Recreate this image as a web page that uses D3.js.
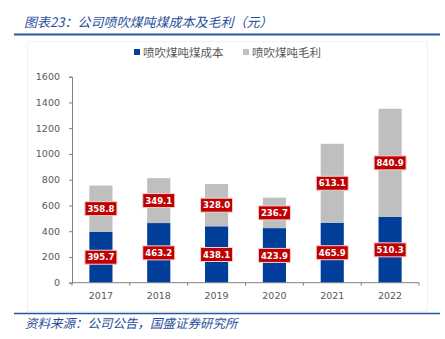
<!DOCTYPE html>
<html><head><meta charset="utf-8">
<script src="https://cdn.jsdelivr.net/npm/d3@7"></script>
<style>body{margin:0;background:#fff;}svg{display:block;}</style>
</head><body>
<svg id="c" width="445" height="339"></svg>
<script>
const years = ["2017","2018","2019","2020","2021","2022"];
const costValues = [395.7, 463.2, 438.1, 423.9, 465.9, 510.3];
const marginValues = [358.8, 349.1, 328.0, 236.7, 613.1, 840.9];
const yTicks = [0, 200, 400, 600, 800, 1000, 1200, 1400, 1600];
const seriesNames = ["喷吹煤吨煤成本", "喷吹煤吨毛利"];
const titleText = "图表23：公司喷吹煤吨煤成本及毛利（元）";
const sourceText = "资料来源：公司公告，国盛证券研究所";

const svg = d3.select("#c");
const font = "'Noto Sans CJK SC', 'Noto Sans', sans-serif";
const numFont = "'DejaVu Sans', Verdana, sans-serif";
const blueTxt = "#1F4E9A";
const colors = ["#003E99", "#BFBFBF"];

// title
svg.append("text").attr("x", 24).attr("y", 27).attr("font-family", font)
  .attr("font-size", 13).attr("font-style", "italic").attr("fill", blueTxt).text(titleText);
svg.append("line").attr("x1", 14).attr("x2", 440).attr("y1", 34.5).attr("y2", 34.5)
  .attr("stroke", "#2458A6").attr("stroke-width", 2);

// faint chart frame
svg.append("rect").attr("x", 27.5).attr("y", 41.5).attr("width", 400).attr("height", 270)
  .attr("fill", "none").attr("stroke", "#F2F2F2");

const x = d3.scaleBand().domain(years).range([72, 419]).paddingInner(0.6).paddingOuter(0.3);
const y = d3.scaleLinear().domain([0, 1600]).range([282.7, 76.7]);

// y axis
const yAxis = svg.append("g").attr("transform", "translate(72,0)")
  .call(d3.axisLeft(y).tickValues(yTicks).tickSize(3).tickPadding(9).tickFormat(d3.format("d")));
yAxis.select(".domain").attr("stroke", "#808080");
yAxis.selectAll(".tick line").attr("stroke", "#808080");
yAxis.selectAll("text").attr("font-family", numFont).attr("font-size", 9.5).attr("fill", "#595959");

// stacked bars
const stackData = years.map((yr, i) => ({year: yr, cost: costValues[i], margin: marginValues[i]}));
const stack = d3.stack().keys(["cost", "margin"])(stackData);
stack.forEach((s, si) => {
  svg.append("g").selectAll("rect").data(s).join("rect")
    .attr("x", d => x(d.data.year))
    .attr("width", x.bandwidth())
    .attr("y", d => y(d[1]))
    .attr("height", d => y(d[0]) - y(d[1]))
    .attr("fill", colors[si]);
});

// x axis
const xAxisG = svg.append("g").attr("transform", "translate(0,282.7)");
xAxisG.append("line").attr("x1", 72).attr("x2", 419).attr("stroke", "#808080");
const boundaries = d3.range(years.length + 1).map(i => 72 + i * (347 / years.length));
xAxisG.selectAll("line.tk").data(boundaries).join("line").attr("class", "tk")
  .attr("x1", d => d).attr("x2", d => d).attr("y1", 0).attr("y2", 3).attr("stroke", "#808080");
xAxisG.selectAll("text").data(years).join("text")
  .attr("x", d => x(d) + x.bandwidth() / 2).attr("y", 16).attr("text-anchor", "middle")
  .attr("font-family", numFont).attr("font-size", 9.5).attr("fill", "#595959")
  .text(d => d);

// data labels
stack.forEach((s) => {
  const g = svg.append("g").selectAll("g").data(s).join("g")
    .attr("transform", d => `translate(${x(d.data.year) + x.bandwidth() / 2},${(y(d[0]) + y(d[1])) / 2})`);
  g.append("rect").attr("x", -16).attr("y", -7).attr("width", 32).attr("height", 14)
    .attr("fill", "#C00000").attr("stroke", "#F3D0D0").attr("stroke-width", 1);
  g.append("text").attr("text-anchor", "middle").attr("dy", "0.36em")
    .attr("font-family", numFont).attr("font-weight", "bold")
    .attr("font-size", 9).attr("fill", "#fff")
    .attr("textLength", 27).attr("lengthAdjust", "spacingAndGlyphs")
    .text(d => (d[1] - d[0]).toFixed(1));
});

// legend
const legendX = [134, 243];
seriesNames.forEach((n, i) => {
  svg.append("rect").attr("x", legendX[i]).attr("y", 49).attr("width", 6).attr("height", 6).attr("fill", colors[i]);
  svg.append("text").attr("x", legendX[i] + 9).attr("y", 56.5).attr("font-family", font)
    .attr("font-size", 11.5).attr("fill", "#595959").text(n);
});

// footer
svg.append("line").attr("x1", 14).attr("x2", 440).attr("y1", 313.5).attr("y2", 313.5)
  .attr("stroke", "#2458A6").attr("stroke-width", 1.5);
svg.append("text").attr("x", 25).attr("y", 327.5).attr("font-family", font)
  .attr("font-size", 12.5).attr("font-style", "italic").attr("fill", blueTxt).text(sourceText);
</script>
</body></html>
